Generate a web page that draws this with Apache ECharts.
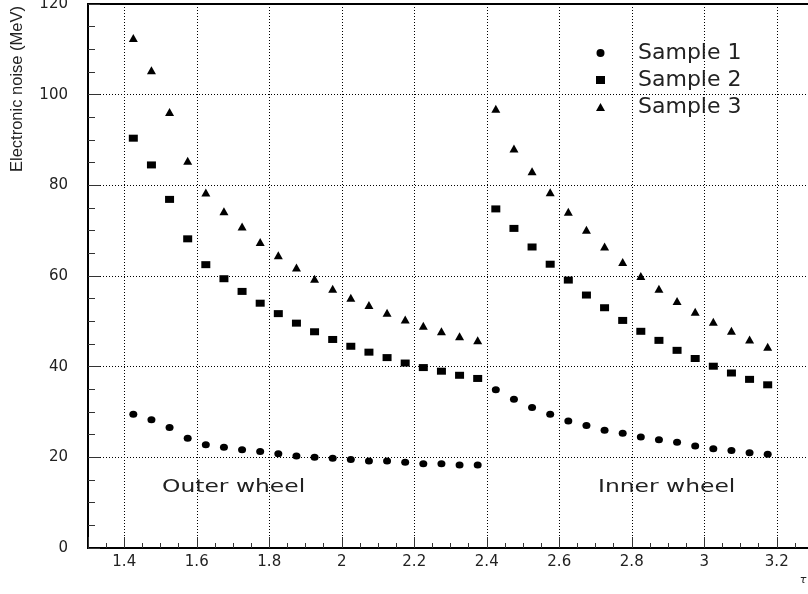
<!DOCTYPE html>
<html>
<head>
<meta charset="utf-8">
<script src="https://cdn.jsdelivr.net/npm/echarts@6/dist/echarts.min.js"></script>
<style>
  html, body { margin: 0; padding: 0; background: #fff; }
  #chart { width: 808px; height: 594px; }
</style>
</head>
<body>
<div id="chart"></div>
<script>
// eta bin centres, outer and inner wheel
const etaOuter = [1.425, 1.475, 1.525, 1.575, 1.625, 1.675, 1.725, 1.775, 1.825, 1.875,
                  1.925, 1.975, 2.025, 2.075, 2.125, 2.175, 2.225, 2.275, 2.325, 2.375]
const etaInner = [2.425, 2.475, 2.525, 2.575, 2.625, 2.675, 2.725, 2.775,
                  2.825, 2.875, 2.925, 2.975, 3.025, 3.075, 3.125, 3.175]

// electronic noise (MeV)
const sample1Outer = [29.5, 28.3, 26.6, 24.2, 22.8, 22.2, 21.7, 21.3, 20.8, 20.3,
                      20.0, 19.8, 19.5, 19.2, 19.2, 18.9, 18.6, 18.6, 18.3, 18.3]
const sample1Inner = [34.9, 32.8, 31.0, 29.5, 28.0, 27.0, 26.0, 25.3,
                      24.5, 23.9, 23.3, 22.5, 21.9, 21.5, 21.0, 20.7]
const sample2Outer = [90.4, 84.5, 76.9, 68.2, 62.5, 59.4, 56.6, 54.0, 51.7, 49.6,
                      47.7, 46.0, 44.5, 43.2, 42.0, 40.8, 39.8, 39.0, 38.1, 37.4]
const sample2Inner = [74.8, 70.5, 66.4, 62.6, 59.1, 55.8, 53.0, 50.2,
                      47.8, 45.8, 43.6, 41.8, 40.1, 38.6, 37.2, 36.0]
const sample3Outer = [112.5, 105.4, 96.2, 85.4, 78.4, 74.3, 70.9, 67.5, 64.6, 61.9,
                      59.4, 57.2, 55.2, 53.6, 51.9, 50.4, 49.0, 47.8, 46.7, 45.8]
const sample3Inner = [96.9, 88.1, 83.1, 78.5, 74.2, 70.2, 66.5, 63.1,
                      60.0, 57.2, 54.5, 52.1, 49.9, 47.9, 46.0, 44.4]

const sampleNames = ['Sample 1', 'Sample 2', 'Sample 3']
const sampleSymbols = ['circle', 'rect', 'triangle']

const pairs = (xs, ys) => xs.map((x, i) => [x, ys[i]])

const font = 'DejaVu Sans'
const mChart = echarts.init(document.getElementById('chart'))

const options = {
  animation: false,
  backgroundColor: '#fff',
  grid: {
    left: 88,
    right: -5,
    top: 4,
    bottom: 46,
    outerBoundsMode: 'none',
    containLabel: false,
    show: true,
    borderColor: '#000',
    borderWidth: 2
  },
  legend: {
    orient: 'vertical',
    left: 591,
    top: 37,
    itemWidth: 9,
    itemHeight: 8,
    itemGap: 5,
    selectedMode: false,
    textStyle: { fontFamily: font, fontSize: 22, lineHeight: 22, color: '#222', padding: [0, 0, 0, 28] },
    data: sampleNames.map((n, i) => ({ name: n, icon: sampleSymbols[i] }))
  },
  xAxis: {
    type: 'value',
    min: 1.3,
    max: 3.3,
    splitNumber: 10,
    minInterval: 0.2,
    maxInterval: 0.2,
    axisLine: { lineStyle: { color: '#000', width: 2 } },
    axisTick: { inside: true, length: 11, lineStyle: { color: '#333' } },
    minorTick: { show: true, splitNumber: 4, length: 5, lineStyle: { color: '#333' } },
    splitLine: { show: true, lineStyle: { color: '#000', type: [1, 2], width: 1 } },
    axisLabel: {
      showMinLabel: false,
      showMaxLabel: false,
      margin: 7,
      fontFamily: font,
      fontSize: 15,
      color: '#222'
    }
  },
  yAxis: {
    type: 'value',
    min: 0,
    max: 120,
    interval: 20,
    axisLine: { show: true, lineStyle: { color: '#000', width: 2 } },
    axisTick: { show: true, inside: true, length: 12, lineStyle: { color: '#333' } },
    minorTick: { show: true, splitNumber: 4, length: 7, lineStyle: { color: '#333' } },
    splitLine: { show: true, lineStyle: { color: '#000', type: [1, 2], width: 1 } },
    axisLabel: { margin: 20, fontFamily: font, fontSize: 15, color: '#222' }
  },
  graphic: [
    {
      type: 'text', x: 17, y: 89, rotation: Math.PI / 2,
      style: { text: 'Electronic noise (MeV)', font: '16.5px "Liberation Sans"', fill: '#222', align: 'center', verticalAlign: 'middle' }
    },
    {
      type: 'text', x: 162, y: 487, scaleX: 1.3,
      style: { text: 'Outer wheel', font: '18px "DejaVu Sans"', fill: '#222', align: 'left', verticalAlign: 'middle' }
    },
    {
      type: 'text', x: 598, y: 487, scaleX: 1.3,
      style: { text: 'Inner wheel', font: '18px "DejaVu Sans"', fill: '#222', align: 'left', verticalAlign: 'middle' }
    },
    {
      type: 'text', x: 803, y: 580,
      style: { text: 'τ', font: 'italic 11px "DejaVu Sans"', fill: '#222', align: 'center', verticalAlign: 'middle' }
    }
  ],
  series: [
    {
      name: 'Sample 1', type: 'scatter', symbol: 'circle', symbolSize: [8, 7],
      itemStyle: { color: '#000', opacity: 1 },
      data: pairs(etaOuter, sample1Outer).concat(pairs(etaInner, sample1Inner))
    },
    {
      name: 'Sample 2', type: 'scatter', symbol: 'rect', symbolSize: [9, 7],
      itemStyle: { color: '#000', opacity: 1 },
      data: pairs(etaOuter, sample2Outer).concat(pairs(etaInner, sample2Inner))
    },
    {
      name: 'Sample 3', type: 'scatter', symbol: 'triangle', symbolSize: [9, 8],
      itemStyle: { color: '#000', opacity: 1 },
      data: pairs(etaOuter, sample3Outer).concat(pairs(etaInner, sample3Inner))
    }
  ]
}

mChart.setOption(options)
window.addEventListener('resize', () => {
  mChart.resize()
})
</script>
</body>
</html>
